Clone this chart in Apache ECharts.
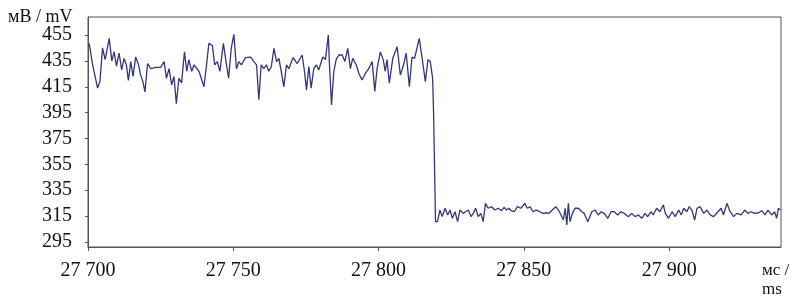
<!DOCTYPE html>
<html>
<head>
<meta charset="utf-8">
<script src="https://cdn.jsdelivr.net/npm/echarts@6/dist/echarts.min.js"></script>
<style>
html,body{margin:0;padding:0;background:#fff;}
#c{width:799px;height:304px;}
</style>
</head>
<body>
<div id="c"></div>
<script>
// Time, ms
const timeMs = [
27700.4,27701.6,27703.3,27704.1,27705.0,27705.9,27707.3,27708.2,27709.0,27709.8,
27710.7,27711.6,27712.4,27713.2,27713.9,27714.7,27715.5,27716.4,27717.4,27718.1,
27718.9,27719.6,27720.5,27721.6,27723.3,27725.0,27726.2,27727.0,27727.9,27728.8,
27729.6,27730.4,27731.3,27732.2,27733.2,27734.0,27734.7,27735.7,27736.5,27738.2,
27739.9,27740.8,27741.6,27742.8,27743.6,27744.5,27745.4,27746.6,27747.4,27748.4,
27749.3,27750.2,27751.1,27751.9,27752.8,27754.2,27756.0,27757.1,27758.0,27758.8,
27759.6,27760.5,27761.4,27762.2,27763.1,27764.0,27764.9,27765.7,27766.5,27767.4,
27768.3,27769.1,27770.6,27772.0,27773.7,27774.5,27775.2,27776.0,27776.8,27777.7,
27778.6,27779.4,27780.0,27780.8,27781.7,27782.7,27783.1,27783.8,27784.6,27785.4,
27786.3,27787.5,27788.4,27789.4,27790.3,27791.1,27792.3,27793.2,27794.3,27795.5,
27796.6,27797.8,27798.7,27799.5,27800.6,27801.6,27802.3,27802.9,27803.7,27804.9,
27806.4,27807.5,27808.6,27809.5,27810.6,27811.5,27812.4,27814.0,27815.0,27816.1,
27817.0,27817.8,27818.6,27818.9,27819.6,
27820.3,27821.1,27821.9,27822.9,27823.8,27824.6,27825.4,27826.3,27827.2,27828.0,
27829.1,27829.9,27830.9,27831.8,27832.6,27833.4,27834.3,27835.2,27836.0,27836.8,
27837.7,27838.9,27840.0,27841.2,27842.3,27843.2,27844.0,27844.9,27845.7,27846.7,
27847.8,27849.0,27850.3,27851.2,27852.1,27853.2,27854.3,27855.5,27856.6,27857.8,
27858.5,27859.8,27861.0,27861.9,27862.8,27863.6,27864.2,27864.8,27865.3,27865.9,
27866.7,27867.6,27868.8,27869.9,27870.8,27872.0,27873.4,27874.5,27875.6,27876.6,
27877.7,27878.9,27880.0,27881.1,27882.3,27883.4,27884.6,27886.0,27887.1,27888.3,
27889.4,27890.6,27891.7,27892.6,27893.8,27894.5,27895.7,27896.8,27898.0,27898.7,
27899.8,27901.0,27902.1,27903.3,27904.2,27905.0,27906.1,27906.9,27907.8,27908.8,
27909.6,27910.7,27911.9,27913.0,27914.1,27915.3,27916.8,27917.9,27918.7,27919.9,
27921.0,27922.2,27923.3,27924.8,27926.0,27927.1,27928.2,27929.4,27930.8,27931.9,
27933.0,27934.0,27935.3,27936.3,27937.0,27937.6,27938.2
];
// Voltage, mV
const voltage = [
448.7,432,414,419,445,436,452.5,435,442,431,
441,428,437,432,420,434.5,423,438,432,424,
419,411,433,429,430,430,434.5,421.6,429,416.5,
423,402,421.6,418,442,427,436,427,432,427,
415,432,448.7,447,432,434.5,427,448.7,436,421.6,
444.8,455.6,429,434.5,432,437.6,438,434.5,432,405,
432,429,432,427,430.7,444.8,434.5,437,427,415,
432,429,437.6,433,439.6,427,412.6,430.7,414,429,
432,428,427,438,436,455,432,401,427,436,
439.6,439.6,434.5,444.8,429,437,432,425.5,420.3,425.5,
429,434.5,411.4,429,442,436,427,436,417.8,437,
446,424,432,441,415,438,437,452.5,437,419,
436,434.5,421.6,398,310.6,
310.6,319.6,314.5,321,315.8,319.6,313.2,318.3,310.6,319.6,
317,318.3,319.6,314.5,317,321,314.5,317,310.6,324.8,
321,322.2,319.6,321,319.1,321.7,319.6,321,319.1,318.3,
322.2,321,324.8,321,322.2,318.3,319.6,318.3,317,317.5,
317,319.6,322.2,319.6,315.8,311.9,321,308,324.8,310.6,
317,321,321,318.3,317,310.6,318.3,319.6,315.8,318.3,
317,313.2,318.3,318.3,315.8,318.3,317,314.5,317,314.5,
315.8,313.2,317,314.5,318.3,315.8,321,318.3,323.5,317,
313.2,318.3,314.5,319.6,315.8,321,318.3,322.2,319.6,311.9,
321,322.2,317,319.6,315.8,314.5,318.3,321,315.8,324.8,
318.3,314.5,317,315.8,319.6,317,318.3,317,317.5,319.1,
315.8,319.6,315.8,318.3,313.2,321,319.6
];
const yTicks = [295,315,335,355,375,395,415,435,455];
const xTicks = [27700,27750,27800,27850,27900];
const yUnit = 'мВ / mV';
const xUnit = ['мс /','ms'];

const seriesData = timeMs.map((t,i)=>[t, voltage[i]]);
const fmtX = v => String(v).replace(/\B(?=(\d{3})+(?!\d))/g,' ');
const font = '"Liberation Serif","DejaVu Serif",serif';

const chart = echarts.init(document.getElementById('c'), null, {renderer:'canvas'});
chart.setOption({
  animation:false,
  backgroundColor:'#fff',
  grid:{left:88,right:18,top:17,bottom:57,show:true,borderColor:'#555',borderWidth:1},
  xAxis:{
    type:'value',min:27700,max:27938.5,
    axisLine:{show:true,lineStyle:{color:'#555',width:1}},
    axisTick:{show:true,length:4,lineStyle:{color:'#555'},customValues:xTicks},
    axisLabel:{customValues:xTicks,formatter:fmtX,color:'#111',fontFamily:font,fontSize:20,margin:14},
    splitLine:{show:false}
  },
  yAxis:{
    type:'value',min:291,max:469,
    axisLine:{show:true,lineStyle:{color:'#555',width:1}},
    axisTick:{show:true,length:3,lineStyle:{color:'#555'},customValues:yTicks},
    axisLabel:{customValues:yTicks,color:'#111',fontFamily:font,fontSize:20,margin:16},
    splitLine:{show:false}
  },
  graphic:[
    {type:'text',left:8,top:8,style:{text:yUnit,font:'18px '+font,fill:'#111'}},
    {type:'text',left:762,top:262,style:{text:xUnit[0],font:'17px '+font,fill:'#111'}},
    {type:'text',left:762,top:281,style:{text:xUnit[1],font:'17px '+font,fill:'#111'}}
  ],
  series:[{
    type:'line',data:seriesData,showSymbol:false,symbol:'none',
    lineStyle:{color:'#34367a',width:1.3},
    clip:true
  }]
});
</script>
</body>
</html>
